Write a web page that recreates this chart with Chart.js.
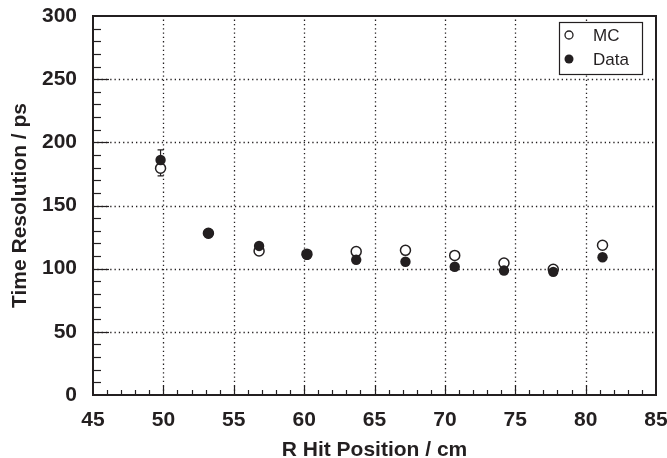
<!DOCTYPE html>
<html>
<head>
<meta charset="utf-8">
<script src="https://cdn.jsdelivr.net/npm/chart.js@4/dist/chart.umd.min.js"></script>
<style>
  html, body { margin: 0; padding: 0; background: #fff; }
  #wrap { width: 667px; height: 458px; }
</style>
</head>
<body>
<div id="wrap"><canvas id="chart" width="667" height="458"></canvas></div>
<script>
// R hit positions (cm)
const rPos = [49.8, 53.2, 56.8, 60.2, 63.7, 67.2, 70.7, 74.2, 77.7, 81.2];
// time resolution (ps)
const mcVals   = [179.5, 128, 114, 111.5, 113.5, 114.5, 110.5, 104.5, 99.5, 118.5];
const dataVals = [186, 128, 118, 111, 107, 105.5, 101.5, 98.5, 97.5, 109];
// errors (ps)
const mcErr   = [6, 1.5, 1.5, 1.5, 1.5, 1.5, 1.5, 1.5, 1.5, 1.5];
const dataErr = [8, 1.5, 1.5, 1.5, 1.5, 1.5, 1.5, 1.5, 1.5, 1.5];

const xTicks = [45, 50, 55, 60, 65, 70, 75, 80, 85];
const yTicks = [0, 50, 100, 150, 200, 250, 300];

const FONT = "'Liberation Sans', Arial, Helvetica, sans-serif";
const INK = '#231f20';

function toPoints(xs, ys) {
    return xs.map((x, i) => ({ x: x, y: ys[i] }));
}

// frame, dotted grid, minor ticks, error bars, legend
const framePlugin = {
    id: 'frame',
    beforeDatasetsDraw(chart) {
        const ctx = chart.ctx;
        const a = chart.chartArea;
        const xs = chart.scales.x, ys = chart.scales.y;
        ctx.save();
        // dotted grid
        ctx.strokeStyle = INK;
        ctx.lineWidth = 1.3;
        ctx.setLineDash([1.3, 3]);
        xTicks.slice(1, -1).forEach(v => {
            const px = Math.round(xs.getPixelForValue(v)) + 0.5;
            ctx.beginPath(); ctx.moveTo(px, a.bottom); ctx.lineTo(px, a.top); ctx.stroke();
        });
        yTicks.slice(1, -1).forEach(v => {
            const py = Math.round(ys.getPixelForValue(v)) + 0.5;
            ctx.beginPath(); ctx.moveTo(a.left, py); ctx.lineTo(a.right, py); ctx.stroke();
        });
        ctx.setLineDash([]);
        // minor and major ticks
        ctx.lineWidth = 1.2;
        for (let v = 46; v < 85; v++) {
            const px = Math.round(xs.getPixelForValue(v)) + 0.5;
            const len = v % 5 === 0 ? 9 : 5;
            ctx.beginPath(); ctx.moveTo(px, a.bottom); ctx.lineTo(px, a.bottom - len); ctx.stroke();
        }
        for (let v = 10; v < 300; v += 10) {
            const py = Math.round(ys.getPixelForValue(v)) + 0.5;
            const len = v % 50 === 0 ? 16 : 8;
            ctx.beginPath(); ctx.moveTo(a.left, py); ctx.lineTo(a.left + len, py); ctx.stroke();
        }
        // error bars
        const drawErr = (vals, errs) => {
            vals.forEach((v, i) => {
                const px = xs.getPixelForValue(rPos[i]);
                const top = ys.getPixelForValue(v + errs[i]);
                const bot = ys.getPixelForValue(v - errs[i]);
                ctx.beginPath();
                ctx.moveTo(px, top); ctx.lineTo(px, bot);
                ctx.moveTo(px - 3, top); ctx.lineTo(px + 3, top);
                ctx.moveTo(px - 3, bot); ctx.lineTo(px + 3, bot);
                ctx.stroke();
            });
        };
        drawErr(mcVals, mcErr);
        drawErr(dataVals, dataErr);
        ctx.restore();
    },
    afterDraw(chart) {
        const ctx = chart.ctx;
        const a = chart.chartArea;
        ctx.save();
        ctx.strokeStyle = INK;
        ctx.lineWidth = 2;
        ctx.strokeRect(a.left, a.top, a.right - a.left, a.bottom - a.top);

        // legend box
        const lx = 559, ly = 22, lw = 83, lh = 52;
        ctx.fillStyle = '#fff';
        ctx.fillRect(lx, ly, lw, lh);
        ctx.lineWidth = 1.2;
        ctx.strokeRect(lx + 0.5, ly + 0.5, lw, lh);
        ctx.font = '17px ' + FONT;
        ctx.textBaseline = 'middle';
        ctx.fillStyle = INK;
        ctx.beginPath(); ctx.arc(569, 35, 4, 0, Math.PI * 2); ctx.lineWidth = 1.3; ctx.stroke();
        ctx.fillText('MC', 593, 36);
        ctx.beginPath(); ctx.arc(569, 59, 4.5, 0, Math.PI * 2); ctx.fill();
        ctx.fillText('Data', 593, 60);
        ctx.restore();
    }
};

new Chart(document.getElementById('chart').getContext('2d'), {
    type: 'scatter',
    data: {
        datasets: [
            {
                label: 'MC',
                data: toPoints(rPos, mcVals),
                pointStyle: 'circle',
                pointRadius: 5,
                pointBackgroundColor: '#fff',
                pointBorderColor: INK,
                pointBorderWidth: 1.5,
                order: 2
            },
            {
                label: 'Data',
                data: toPoints(rPos, dataVals),
                pointStyle: 'circle',
                pointRadius: 5.2,
                pointBackgroundColor: INK,
                pointBorderColor: INK,
                pointBorderWidth: 0,
                order: 1
            }
        ]
    },
    options: {
        responsive: false,
        animation: false,
        layout: { padding: { top: 16, right: 11, left: 0, bottom: 0 } },
        scales: {
            x: {
                type: 'linear',
                min: 45,
                max: 85,
                afterFit: s => { s.height = 63; s.paddingLeft = 0; s.paddingRight = 0; },
                afterBuildTicks: s => { s.ticks = xTicks.map(v => ({ value: v })); },
                grid: { display: false },
                border: { display: false },
                ticks: {
                    padding: 5,
                    color: INK,
                    font: { family: FONT, size: 21, weight: 'bold' }
                },
                title: {
                    display: true,
                    text: 'R Hit Position / cm',
                    color: INK,
                    padding: { top: 0, bottom: 0 },
                    font: { family: FONT, size: 21, weight: 'bold', lineHeight: 0.76 }
                }
            },
            y: {
                type: 'linear',
                min: 0,
                max: 300,
                afterFit: s => { s.width = 93; s.paddingTop = 0; s.paddingBottom = 0; },
                afterBuildTicks: s => { s.ticks = yTicks.map(v => ({ value: v })); },
                grid: { display: false },
                border: { display: false },
                ticks: {
                    padding: 8,
                    color: INK,
                    font: { family: FONT, size: 21, weight: 'bold' }
                },
                title: {
                    display: true,
                    text: 'Time Resolution / ps',
                    color: INK,
                    padding: { top: 8, bottom: 0 },
                    font: { family: FONT, size: 21, weight: 'bold' }
                }
            }
        },
        plugins: {
            legend: { display: false },
            tooltip: { enabled: false }
        }
    },
    plugins: [framePlugin]
});
</script>
</body>
</html>
